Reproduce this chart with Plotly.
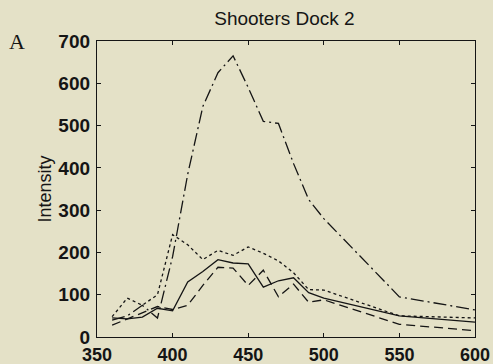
import plotly.graph_objects as go

# Excitation / emission wavelength (nm)
wavelength = [360, 370, 380, 390, 400, 410, 420, 430, 440, 450, 460, 470, 480, 490, 500, 550, 600]

# Fluorescence intensity for the four sample spectra
solid_series = [45, 43, 47, 68, 62, 130, 155, 183, 175, 173, 118, 133, 140, 105, 92, 50, 35]
dotted_series = [48, 92, 75, 100, 242, 218, 183, 205, 193, 213, 198, 180, 152, 112, 111, 50, 45]
longdash_series = [28, 43, 57, 72, 65, 75, 122, 165, 163, 122, 158, 95, 125, 82, 88, 30, 15]
dashdot_series = [40, 50, 75, 45, 190, 385, 545, 625, 665, 590, 510, 505, 410, 325, 280, 95, 64]

x_ticks = [350, 400, 450, 500, 550, 600]
y_ticks = [0, 100, 200, 300, 400, 500, 600, 700]

bg = "#e4e1c7"
ink = "#151515"
sans = "Liberation Sans, Arial"

fig = go.Figure()
styles = [
    (solid_series, "solid"),
    (dotted_series, "3px,3px"),
    (longdash_series, "9px,5px"),
    (dashdot_series, "13px,4px,2px,4px"),
]
for values, dash in styles:
    fig.add_trace(go.Scatter(
        x=wavelength, y=values, mode="lines",
        line=dict(color=ink, width=1.3, dash=dash),
        showlegend=False, hoverinfo="skip",
    ))

axis_common = dict(
    showgrid=False, zeroline=False, showline=True, linecolor=ink, linewidth=1.3,
    mirror="ticks", ticks="inside", ticklen=4, tickcolor=ink, tickwidth=1,
    automargin=False,
)

fig.update_layout(
    width=493, height=364,
    margin=dict(l=97, r=18, t=41, b=27),
    paper_bgcolor=bg, plot_bgcolor=bg,
    xaxis=dict(range=[350, 600], tickvals=x_ticks, ticklabelstandoff=1,
               tickfont=dict(family=sans, size=18, color=ink, weight="bold"),
               **axis_common),
    yaxis=dict(range=[0, 700], tickvals=y_ticks, ticklabelstandoff=2,
               tickfont=dict(family=sans, size=19, color=ink, weight="bold"),
               title=dict(text="Intensity", standoff=2,
                          font=dict(family=sans, size=18, color=ink)),
               **axis_common),
    title=dict(text="Shooters Dock 2", x=0.577, xanchor="center", y=0.95, yanchor="middle",
               font=dict(family=sans, size=19, color=ink)),
    annotations=[dict(text="A", xref="paper", yref="paper", x=-0.212, y=1.0,
                      xanchor="center", yanchor="middle", showarrow=False,
                      font=dict(family="Liberation Serif, Times New Roman", size=22, color=ink))],
)

fig.write_html("out.html")
